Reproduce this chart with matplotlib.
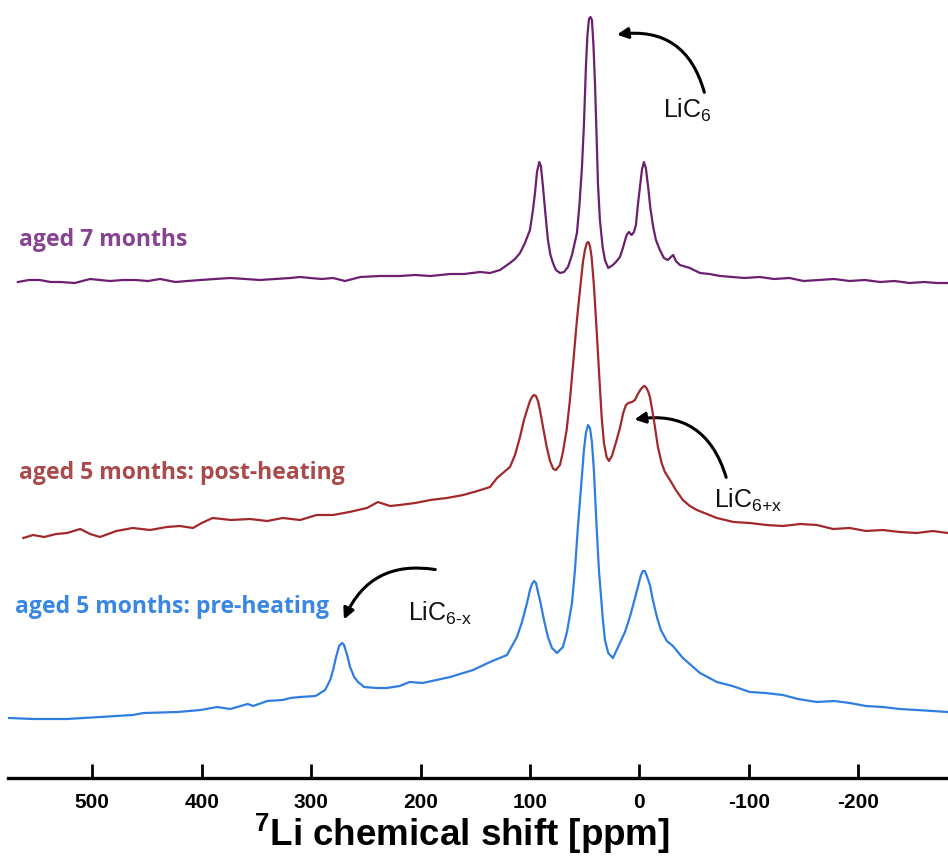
import matplotlib
matplotlib.use("Agg")
import matplotlib.pyplot as plt
from matplotlib.patches import FancyArrowPatch

plt.rcParams['font.family'] = ['Liberation Sans', 'DejaVu Sans']
plt.rcParams['mathtext.fontset'] = 'custom'
plt.rcParams['mathtext.rm'] = 'Liberation Sans'
plt.rcParams['mathtext.bf'] = 'Liberation Sans:bold'

# spectra: (chemical shift in ppm, intensity in a.u.)
pre_heating = [
    (576, 5), (554, 4), (523, 4), (493, 6), (463, 8), (453, 10), (422, 11), (401, 13),
    (386, 16), (374, 14), (358, 19), (353, 17), (340, 22), (326, 23), (319, 25), (310, 26),
    (296, 27), (287.2, 33), (282.6, 43), (279.9, 53), (277.2, 66), (274.4, 77), (271.7, 80),
    (269.9, 78), (267.1, 68), (264.4, 56), (260.7, 46), (257.1, 41), (251.6, 36), (240, 35),
    (231, 35), (219, 37), (210, 41), (198, 40), (173, 46), (152, 53), (136.5, 61), (121, 68),
    (111.9, 86), (107.3, 101), (102.7, 120), (100, 133), (98.2, 139), (96.3, 142), (94.5, 140),
    (92.7, 131), (90.9, 123), (87.2, 103), (83.6, 86), (79.9, 75), (75.3, 70), (69.9, 76),
    (66.2, 91), (61.6, 120), (58.9, 153), (56.2, 196), (53.4, 235), (50.7, 273), (48.9, 290),
    (47, 298), (45.2, 295), (43.4, 281), (41.6, 253), (39.1, 196), (37, 153), (33.6, 106),
    (31.5, 83), (28.5, 70), (24.2, 65), (17.8, 80), (13.2, 91), (8.7, 106), (5, 121),
    (1.4, 136), (-1.4, 148), (-3.2, 152), (-5, 152), (-6.8, 147), (-9.6, 138), (-12.3, 123),
    (-16, 106), (-19.6, 93), (-25.1, 82), (-30.6, 77), (-39.7, 65), (-55.3, 50), (-70.8, 41),
    (-85, 37), (-100.9, 31), (-115, 30), (-131.1, 28), (-145, 24), (-162.1, 21), (-178, 22),
    (-192.2, 20), (-207, 17), (-222.4, 16), (-238, 14), (-253.4, 13), (-268, 12), (-281.7, 11),
]

post_heating = [
    (563, 5), (554, 8), (544, 6), (533, 9), (523, 10), (511, 14), (502, 9), (493, 6),
    (478, 12), (463, 15), (447, 13), (432, 16), (420, 17), (408, 15), (400, 20), (390, 25),
    (373, 23), (356, 24), (340, 22), (326, 25), (310, 23), (295, 28), (280, 28), (265, 31),
    (249, 35), (239, 41), (228, 37), (219, 38), (205, 40), (191, 43), (176, 45), (161, 48),
    (148, 52), (136.5, 56), (130.1, 65), (118.3, 76), (113.7, 88), (109.1, 106), (105.5, 123),
    (102.7, 133), (100, 142), (98.2, 146), (96.3, 148), (94.5, 147), (92.7, 142), (90.9, 133),
    (88.1, 116), (84.7, 96), (81.7, 82), (78.7, 74), (76.3, 73), (72.6, 78), (69.9, 91),
    (66.5, 113), (63.5, 143), (60.5, 180), (57.1, 223), (54.3, 253), (51.6, 281), (49.8, 293),
    (48, 300), (46.6, 301), (45.2, 297), (43.7, 286), (41.6, 258), (39.1, 213), (37, 173),
    (34.5, 126), (32.4, 100), (30, 86), (27.9, 82), (25.1, 87), (20.8, 103), (17.8, 115),
    (14.8, 130), (12.3, 138), (10.2, 140), (6.8, 141), (4.1, 143), (1.4, 149), (-1.4, 154),
    (-4.1, 157), (-5.9, 156), (-7.8, 152), (-9.6, 146), (-11.4, 135), (-14.2, 116),
    (-16.9, 96), (-20.3, 80), (-23.3, 71), (-27.9, 63), (-33.3, 53), (-39.7, 43), (-46.1, 37),
    (-52.5, 33), (-70.8, 25), (-86, 21), (-100.9, 20), (-116, 18), (-131.1, 17), (-147, 19),
    (-162.1, 18), (-177, 14), (-192.2, 15), (-207, 12), (-222.4, 13), (-238, 11),
    (-253.4, 10), (-268, 12), (-281.7, 10),
]

aged_7m = [
    (568, 6), (558, 8), (548, 8), (538, 6), (529, 6), (516, 5), (502, 9), (493, 8),
    (484, 7), (472, 8), (461, 8), (449, 7), (438, 9), (424, 6), (413, 7), (401, 8),
    (388, 9), (374, 10), (360, 9), (347, 8), (333, 9), (319, 10), (310, 11), (301, 10),
    (290, 9), (280, 10), (269, 7), (255, 11), (237, 12), (219, 12), (205, 13), (191, 12),
    (173, 14), (160, 14), (145.7, 16), (136.5, 15), (127.4, 18), (118.3, 25), (113.7, 29),
    (109.1, 35), (104.6, 45), (100, 58), (97.3, 78), (95.4, 95), (93.6, 116), (91.5, 126),
    (90, 122), (88.1, 101), (85.8, 73), (83.6, 48), (81.3, 33), (79, 25), (76.3, 18),
    (72.6, 15), (68.9, 16), (65.3, 21), (61.6, 33), (57.1, 55), (54.8, 83), (52.5, 121),
    (50.7, 163), (48.9, 221), (47.5, 253), (46.1, 269), (44.7, 271), (43.4, 268), (42, 243),
    (40.6, 205), (39.3, 158), (37.9, 105), (36.1, 68), (33.6, 41), (31.5, 28), (28.5, 20),
    (24.2, 23), (21.5, 26), (17.8, 31), (15.1, 40), (11.7, 53), (9.6, 56), (7.1, 53),
    (5, 56), (3.2, 63), (1.4, 83), (-0.5, 101), (-2.3, 118), (-4.1, 126), (-5.9, 120),
    (-8, 101), (-10, 80), (-12.6, 61), (-15.1, 48), (-18.7, 38), (-22.4, 30), (-26, 28),
    (-28.8, 31), (-30.9, 33), (-33.3, 27), (-37, 23), (-46.1, 20), (-55.3, 15), (-64, 14),
    (-74, 12), (-85, 11), (-96, 10), (-110, 11), (-123, 9), (-137, 10), (-150, 7),
    (-164, 8), (-178, 9), (-192, 7), (-206, 8), (-220, 6), (-233, 7), (-247, 5),
    (-260, 6), (-272, 5), (-281.7, 5),
]

labels = ["aged 5 months: pre-heating", "aged 5 months: post-heating", "aged 7 months"]
offsets = [55, 235, 490]
line_colors = ["#2F7DE1", "#A3282B", "#6C1F70"]
text_colors = ["#3A87E3", "#AA4A4C", "#864391"]
label_y = [171, 305, 538]
ticks = [500, 400, 300, 200, 100, 0, -100, -200]

fig = plt.figure(figsize=(9.48, 8.59), dpi=100)
ax = fig.add_axes([8 / 948, 81 / 859, 940 / 948, 778 / 859])

for spec, off, c in zip([pre_heating, post_heating, aged_7m], offsets, line_colors):
    x = [p[0] for p in spec]
    y = [p[1] + off for p in spec]
    ax.plot(x, y, color=c, lw=1.6, solid_joinstyle='round')

for lab, ly, c in zip(labels, label_y, text_colors):
    ax.text(0.012 if 'pre' not in lab else 0.007, ly, lab, transform=ax.get_yaxis_transform(),
            color=c, fontsize=16.6, fontweight='bold', family=['Open Sans', 'DejaVu Sans'],
            va='center', ha='left')

# arrows + peak names
def note(txt, tail, head, txt_xy, rad):
    ax.add_patch(FancyArrowPatch(tail, head, connectionstyle=f"arc3,rad={rad}",
                                 arrowstyle='-|>', mutation_scale=16, lw=2.2, color='black'))
    ax.text(txt_xy[0], txt_xy[1], txt, fontsize=18, ha='center', va='center', color='#111111')

note("LiC$_6$", (-60, 683), (23, 743), (-44, 668), 0.45)
note("LiC$_\\mathrm{6{+}x}$", (-80, 298), (7, 358), (-99, 278), 0.45)
note("LiC$_\\mathrm{6\u2010x}$", (184, 208), (271, 156), (182, 165), 0.4)

ax.set_xlim(577, -282)
ax.set_ylim(0, 778)
ax.set_xticks(ticks)
ax.set_xticklabels([str(t) for t in ticks], fontweight='bold', fontsize=15)
ax.set_yticks([])
for s in ['top', 'left', 'right']:
    ax.spines[s].set_visible(False)
ax.spines['bottom'].set_linewidth(2.4)
ax.tick_params(axis='x', direction='in', length=10, width=2, pad=11)

fig.text(462 / 948, 25 / 859, "$\\mathbf{^7}$Li chemical shift [ppm]", fontsize=26.5,
         fontweight='bold', ha='center', va='center')

fig.savefig("out.png", dpi=100)
